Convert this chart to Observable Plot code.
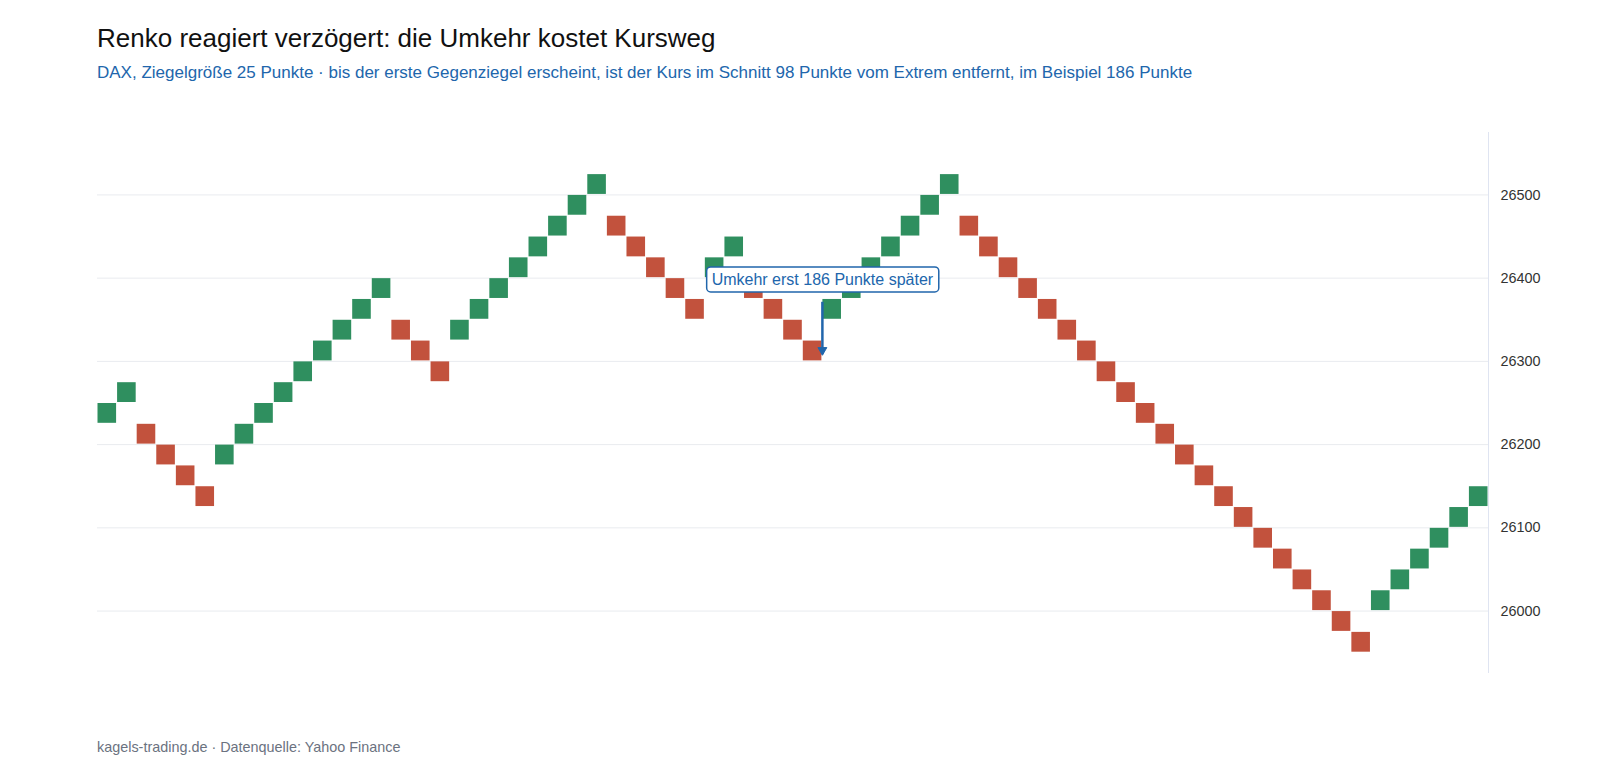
<!DOCTYPE html>
<html>
<head>
<meta charset="utf-8">
<script src="https://cdn.jsdelivr.net/npm/d3@7"></script>
<script src="https://cdn.jsdelivr.net/npm/@observablehq/plot@0.6"></script>
<style>
  html, body { margin: 0; padding: 0; background: #fff; }
  body { width: 1600px; height: 774px; position: relative; font-family: Helvetica, Arial, "Liberation Sans", sans-serif; }
  #title { position: absolute; left: 97px; top: 23px; font-size: 26px; line-height: 30px; color: #111; white-space: nowrap; }
  #subtitle { position: absolute; left: 97px; top: 63px; font-size: 17px; line-height: 20px; color: #2166ac; white-space: nowrap; }
  #chart { position: absolute; left: 0; top: 100px; }
  #caption { position: absolute; left: 97px; top: 738px; font-size: 14.4px; line-height: 18px; color: #6b7280; white-space: nowrap; }
</style>
</head>
<body>
<div id="title">Renko reagiert verzögert: die Umkehr kostet Kursweg</div>
<div id="subtitle">DAX, Ziegelgröße 25 Punkte · bis der erste Gegenziegel erscheint, ist der Kurs im Schnitt 98 Punkte vom Extrem entfernt, im Beispiel 186 Punkte</div>
<div id="chart"></div>
<div id="caption">kagels-trading.de · Datenquelle: Yahoo Finance</div>
<script>
const brickSize = 25;
// bottom price of each Renko brick, in order
const brickLow = [
  26225, 26250, 26200, 26175, 26150, 26125, 26175, 26200, 26225, 26250,
  26275, 26300, 26325, 26350, 26375, 26325, 26300, 26275, 26325, 26350,
  26375, 26400, 26425, 26450, 26475, 26500, 26450, 26425, 26400, 26375,
  26350, 26400, 26425, 26375, 26350, 26325, 26300, 26350, 26375, 26400,
  26425, 26450, 26475, 26500, 26450, 26425, 26400, 26375, 26350, 26325,
  26300, 26275, 26250, 26225, 26200, 26175, 26150, 26125, 26100, 26075,
  26050, 26025, 26000, 25975, 25950, 26000, 26025, 26050, 26075, 26100,
  26125
];
// direction of each brick
const brickDir = [
  "up","up","down","down","down","down","up","up","up","up",
  "up","up","up","up","up","down","down","down","up","up",
  "up","up","up","up","up","up","down","down","down","down",
  "down","up","up","down","down","down","down","up","up","up",
  "up","up","up","up","down","down","down","down","down","down",
  "down","down","down","down","down","down","down","down","down","down",
  "down","down","down","down","down","up","up","up","up","up",
  "up"
];
const yTicks = [26000, 26100, 26200, 26300, 26400, 26500];
const yDomain = [25925, 26575];
const annotation = { text: "Umkehr erst 186 Punkte später", brick: 37, labelPrice: 26398, fromPrice: 26371, toPrice: 26308 };

const bricks = brickLow.map((low, i) => ({ i, low, high: low + brickSize, dir: brickDir[i] }));
const nBricks = bricks.length;

const blue = "#2166ac";
const plot = Plot.plot({
  width: 1600,
  height: 600,
  marginLeft: 97,
  marginRight: 112,
  marginTop: 32,
  marginBottom: 27,
  style: { fontFamily: "Helvetica, Arial, 'Liberation Sans', sans-serif", fontSize: "14px", color: "#333", background: "#fff" },
  x: { domain: [0, nBricks], axis: null },
  y: { domain: yDomain, axis: null },
  color: { domain: ["up", "down"], range: ["#2f8f5f", "#c2523d"] },
  marks: [
    Plot.ruleY(yTicks, { stroke: "#e9ebef", strokeWidth: 1 }),
    Plot.ruleX([nBricks], { stroke: "#dfe4f1", strokeWidth: 1 }),
    Plot.axisY({ anchor: "right", ticks: yTicks, tickSize: 0, tickPadding: 12, tickFormat: d => String(d), label: null, fontSize: 14.4, fill: "#333" }),
    Plot.rect(bricks, { x1: "i", x2: d => d.i + 1, y1: "low", y2: "high", fill: "dir", inset: 0.5 }),
    Plot.ruleX([annotation], { x: "brick", y1: "fromPrice", y2: "toPrice", stroke: blue, strokeWidth: 2.5 }),
    Plot.dot([annotation], { x: "brick", y: "toPrice", symbol: "triangle", rotate: 180, r: 3.3, fill: blue, stroke: blue, strokeWidth: 1, dy: -4.6 }),
    Plot.text([annotation], { x: "brick", y: "labelPrice", text: "text", fill: blue, fontSize: 16 })
  ]
});
document.getElementById("chart").appendChild(plot);

// white rounded box behind the annotation label
const svgNS = "http://www.w3.org/2000/svg";
Array.from(plot.querySelectorAll("text"))
  .filter(t => t.textContent === annotation.text)
  .forEach(t => {
    const bb = t.getBBox();
    const padX = 5, padY = 4;
    const rect = document.createElementNS(svgNS, "rect");
    rect.setAttribute("x", bb.x - padX);
    rect.setAttribute("y", bb.y - padY);
    rect.setAttribute("width", bb.width + 2 * padX);
    rect.setAttribute("height", bb.height + 2 * padY);
    rect.setAttribute("rx", 4);
    rect.setAttribute("fill", "#fff");
    rect.setAttribute("stroke", blue);
    rect.setAttribute("stroke-width", 1.5);
    const tr = t.getAttribute("transform");
    if (tr) rect.setAttribute("transform", tr);
    t.parentNode.insertBefore(rect, t);
  });
</script>
</body>
</html>
